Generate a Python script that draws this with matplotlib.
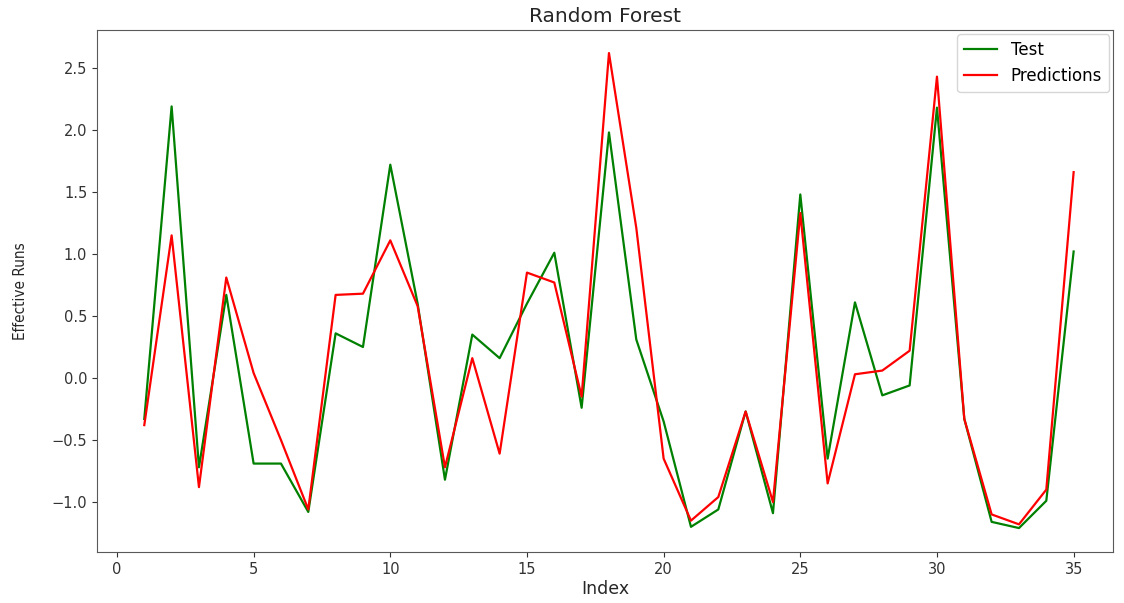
import matplotlib
matplotlib.use('Agg')
import matplotlib.pyplot as plt

# Test targets vs. random forest predictions, indexed 1..35
index = list(range(1, 36))
test = [-0.33, 2.19, -0.72, 0.67, -0.69, -0.69, -1.08, 0.36, 0.25, 1.72,
        0.60, -0.82, 0.35, 0.16, 0.60, 1.01, -0.24, 1.98, 0.31, -0.35,
        -1.20, -1.06, -0.27, -1.09, 1.48, -0.65, 0.61, -0.14, -0.06, 2.18,
        -0.33, -1.16, -1.21, -0.99, 1.02]
predictions = [-0.38, 1.15, -0.88, 0.81, 0.04, -0.50, -1.06, 0.67, 0.68, 1.11,
               0.58, -0.72, 0.16, -0.61, 0.85, 0.77, -0.15, 2.62, 1.21, -0.65,
               -1.15, -0.96, -0.27, -1.00, 1.33, -0.85, 0.03, 0.06, 0.22, 2.43,
               -0.33, -1.10, -1.18, -0.90, 1.66]

fig = plt.figure(figsize=(11.24, 6.03), dpi=100)
ax = fig.add_axes([97 / 1124, 1 - 552 / 603, (1113 - 97) / 1124, (552 - 30) / 603])

ax.plot(index, test, color='green', linewidth=1.6, label='Test')
ax.plot(index, predictions, color='red', linewidth=1.6, label='Predictions')

ax.set_xlim(-0.73, 36.44)
ax.set_ylim(-1.403, 2.806)
ax.set_xticks([0, 5, 10, 15, 20, 25, 30, 35])
ax.set_yticks([-1.0, -0.5, 0.0, 0.5, 1.0, 1.5, 2.0, 2.5])
ax.tick_params(labelsize=10.5, colors='0.2')

for s in ax.spines.values():
    s.set_color('0.35')

ax.set_title('Random Forest', fontsize=14.5, color='0.15', pad=6)
ax.set_xlabel('Index', fontsize=12.5, color='0.15', labelpad=2)
ax.set_ylabel('Effective Runs', fontsize=11, color='0.15',
              family=['Liberation Sans Narrow', 'DejaVu Sans'],
              fontstretch='condensed', labelpad=17)

ax.legend(loc='upper right', fontsize=12, borderaxespad=0.25)

fig.savefig('out.png', dpi=100)
